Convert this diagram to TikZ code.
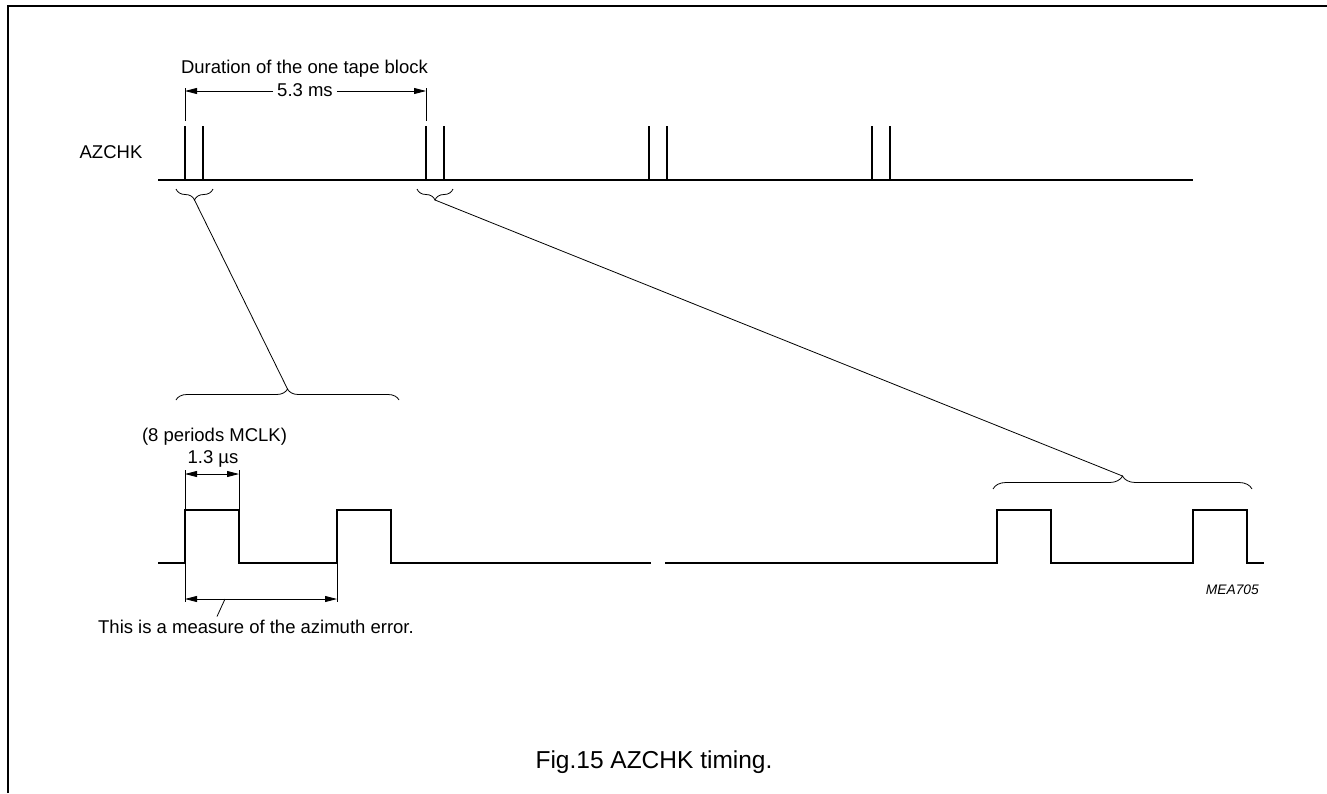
\documentclass[tikz,border=0pt]{standalone}
\usepackage{fontspec}
\setmainfont{Liberation Sans}
\usetikzlibrary{arrows.meta,decorations.pathreplacing}
\begin{document}
\begin{tikzpicture}[x=1pt,y=-1pt,
  sig/.style={line width=1.8pt,line join=miter},
  thinln/.style={line width=0.8pt},
  tip/.style={-{Triangle[length=12pt,width=6pt]}},
  dimarr/.style={thinln,{Triangle[length=12pt,width=6pt]}-{Triangle[length=12pt,width=6pt]}},
  brc/.style={thinln,decorate,decoration={brace,amplitude=11pt}},
  lbl/.style={font=\fontsize{18.5}{22}\selectfont,inner sep=0pt,anchor=base},
]
\useasboundingbox (0,0) rectangle (1327,793);
% frame
\coordinate (fbl) at (7.5,793);
\coordinate (ftl) at (7.5,6);
\coordinate (ftr) at (1327,6);
\draw[line width=2pt] (fbl) -- (ftl) -- (ftr);

% ---- top signal ----
\node[lbl] (az) at (111,158.3) {AZCHK};
\coordinate (ts) at (158,180);
\coordinate (te) at (1193,180);
\draw[sig] (ts) -- (te);
\foreach \x in {185,203,426,444,649,667,872,890}
  \draw[sig] (\x,126) -- (\x,180);

% duration dimension
\node[lbl] (dur) at (304.5,73.3) {Duration of the one tape block};
\coordinate (e1t) at (185,88);  \coordinate (e1b) at (185,121);
\coordinate (e2t) at (426,88);  \coordinate (e2b) at (426,121);
\draw[thinln] (e1t) -- (e1b);
\draw[thinln] (e2t) -- (e2b);
\node[lbl,inner xsep=4pt] (t53) at (305,96) {5.3 ms};
\coordinate (a1) at (185,91);
\coordinate (a2) at (426,91);
\draw[thinln,tip] (t53.west |- a1) -- (a1);
\draw[thinln,tip] (t53.east |- a2) -- (a2);

% braces on top signal
\coordinate (b1r) at (213,189); \coordinate (b1l) at (176,189);
\coordinate (b3r) at (453,189); \coordinate (b3l) at (417,189);
\draw[brc] (b1r) -- (b1l);
\draw[brc] (b3r) -- (b3l);
\coordinate (b1tip) at (194.5,200);
\coordinate (b3tip) at (435,200);

% lower braces
\coordinate (b2l) at (176,400); \coordinate (b2r) at (399,400);
\coordinate (b4l) at (993,489); \coordinate (b4r) at (1252,489);
\draw[brc] (b2l) -- (b2r);
\draw[thinln,decorate,decoration={brace,amplitude=13pt}] (b4l) -- (b4r);
\coordinate (b2tip) at (287.5,389);
\coordinate (b4tip) at (1122.5,476);

% connectors
\draw[thinln] (b1tip) -- (b2tip);
\draw[thinln] (b3tip) -- (b4tip);

% ---- lower waveform ----
\coordinate (w0) at (158,563);
\coordinate (w1) at (185,510);
\coordinate (w2) at (239,563);
\coordinate (w3) at (337,510);
\coordinate (w4) at (391,563);
\coordinate (w5) at (651,563);
\draw[sig] (w0) -| (w1) -| (w2) -| (w3) -| (w4) -- (w5);
\coordinate (v0) at (665,563);
\coordinate (v1) at (997,510);
\coordinate (v2) at (1051,563);
\coordinate (v3) at (1193,510);
\coordinate (v4) at (1247,563);
\coordinate (v5) at (1264,563);
\draw[sig] (v0) -| (v1) -| (v2) -| (v3) -| (v4) -- (v5);

% 1.3 us dimension
\node[lbl] (mclk) at (214.5,441) {(8 periods MCLK)};
\node[lbl] (t13) at (213,463) {1.3 µs};
\coordinate (x1t) at (185,470); \coordinate (x1b) at (185,510);
\coordinate (x2t) at (239,470); \coordinate (x2b) at (239,510);
\draw[thinln] (x1t) -- (x1b);
\draw[thinln] (x2t) -- (x2b);
\coordinate (d1) at (185,474); \coordinate (d2) at (239,474);
\draw[dimarr] (d1) -- (d2);

% azimuth error dimension
\coordinate (y1t) at (185,563); \coordinate (y1b) at (185,602);
\coordinate (y2t) at (337,563); \coordinate (y2b) at (337,602);
\draw[thinln] (y1t) -- (y1b);
\draw[thinln] (y2t) -- (y2b);
\coordinate (f1) at (185,599); \coordinate (f2) at (337,599);
\draw[dimarr] (f1) -- (f2);
\node[lbl] (meas) at (256,633) {This is a measure of the azimuth error.};
\coordinate (ldA) at (225,599);
\coordinate (ldB) at (217,616.5);
\draw[thinln] (ldA) -- (ldB);

% code and caption
\node[lbl,anchor=base east,font=\fontsize{13.8}{16}\selectfont\itshape] (mea) at (1259,594) {MEA705};
\node[lbl,font=\fontsize{24.5}{28}\selectfont] (cap) at (654,768) {Fig.15 AZCHK timing.};
\end{tikzpicture}
\end{document}
